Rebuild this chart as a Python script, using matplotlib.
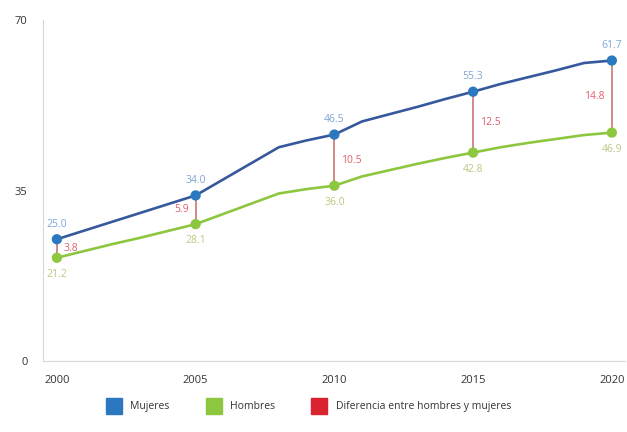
import matplotlib
matplotlib.use("Agg")
import matplotlib.pyplot as plt
from matplotlib.lines import Line2D

years = list(range(2000, 2021))
mujeres = [25.0, 26.8, 28.6, 30.4, 32.2, 34.0, 37.3, 40.6, 43.9, 45.3, 46.5,
           49.2, 50.7, 52.2, 53.8, 55.3, 56.9, 58.3, 59.7, 61.2, 61.7]
hombres = [21.2, 22.6, 24.0, 25.3, 26.7, 28.1, 30.2, 32.3, 34.4, 35.3, 36.0,
           37.9, 39.2, 40.5, 41.7, 42.8, 43.9, 44.8, 45.6, 46.4, 46.9]
label_years = [2000, 2005, 2010, 2015, 2020]
diferencia = [3.8, 5.9, 10.5, 12.5, 14.8]
y_ticks = [0, 35, 70]

C_MUJ = "#2b78c0"
C_MUJ_LINE = "#36589c"
C_HOM = "#8dc63f"
C_DIF = "#d9232e"

plt.rcParams["font.family"] = ["Open Sans", "DejaVu Sans"]

fig = plt.figure(figsize=(6.27, 4.32), dpi=100)
ax = fig.add_axes([0.0686, 0.1644, 0.928, 0.789])

ax.plot(years, mujeres, color=C_MUJ_LINE, lw=1.9, zorder=3, solid_capstyle="round",
        solid_joinstyle="round")
ax.plot(years, hombres, color=C_HOM, lw=1.9, zorder=3, solid_capstyle="round",
        solid_joinstyle="round")

idx = [years.index(y) for y in label_years]
muj_pts = [mujeres[i] for i in idx]
hom_pts = [hombres[i] for i in idx]

ax.vlines(label_years, hom_pts, muj_pts, color="#c96a66", lw=1.1, zorder=2)
ax.scatter(label_years, muj_pts, s=55, color=C_MUJ, zorder=4, edgecolors="none")
ax.scatter(label_years, hom_pts, s=55, color=C_HOM, zorder=4, edgecolors="none")

dif_side = [1, -1, 1, 1, -1]
for yr, m, h, d, side in zip(label_years, muj_pts, hom_pts, diferencia, dif_side):
    ax.annotate(f"{m:.1f}", (yr, m), xytext=(0, 7), textcoords="offset points",
                ha="center", va="bottom", fontsize=7.5, color="#7fa6d6")
    ax.annotate(f"{h:.1f}", (yr, h), xytext=(0, -8), textcoords="offset points",
                ha="center", va="top", fontsize=7.5, color="#b9c982")
    ax.annotate(f"{d:.1f}", (yr, (m + h) / 2), xytext=(5 * side, 0),
                textcoords="offset points", ha="left" if side > 0 else "right",
                va="center", fontsize=7.5, color="#e0606a")

ax.set_xlim(1999.5, 2020.47)
ax.set_ylim(0, 70)
ax.set_yticks(y_ticks)
ax.set_yticklabels([str(v) for v in y_ticks])
ax.set_xticks(label_years)
ax.set_xticklabels([str(v) for v in label_years])
ax.tick_params(length=0, labelsize=8, colors="#333333")
ax.tick_params(axis="y", pad=11)
ax.tick_params(axis="x", pad=10)
for s in ["top", "right"]:
    ax.spines[s].set_visible(False)
for s in ["left", "bottom"]:
    ax.spines[s].set_color("#d8d8d8")
    ax.spines[s].set_linewidth(0.8)

handles = [
    Line2D([], [], marker="s", ls="none", color=C_MUJ, markersize=11),
    Line2D([], [], marker="s", ls="none", color=C_HOM, markersize=11),
    Line2D([], [], marker="s", ls="none", color=C_DIF, markersize=11),
]
fig.legend(handles, ["Mujeres", "Hombres", "Diferencia entre hombres y mujeres"],
           loc="center", bbox_to_anchor=(0.49, 0.058), ncol=3, frameon=False,
           fontsize=7.5, handletextpad=0.6, columnspacing=3.2, labelcolor="#333333")

fig.savefig("out.png", dpi=100)
